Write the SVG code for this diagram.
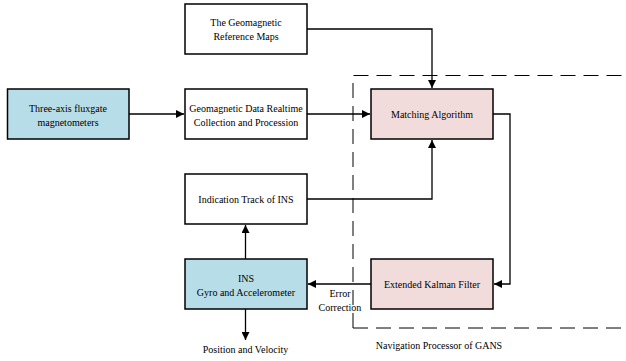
<svg xmlns="http://www.w3.org/2000/svg" width="626" height="361" viewBox="0 0 626 361">
<defs>
<style>
.box{stroke:#000;stroke-width:1.5;fill:#fff}
.blue{fill:#b7dde8}
.pink{fill:#f2dcdb}
text{font-family:'Liberation Serif','Times New Roman',serif;font-size:10px;fill:#000;text-anchor:middle}
.c{fill:none;stroke:#000;stroke-width:1.3}
</style>
<marker id="ah" viewBox="0 0 10 10" refX="10" refY="5" markerWidth="8" markerHeight="8" markerUnits="userSpaceOnUse" orient="auto">
<path d="M0,0 L10,5 L0,10 z" fill="#000"/>
</marker>
</defs>
<rect width="626" height="361" fill="#fff"/>
<g id="gans-boundary">
<path d="M353,328 L353,75.5 L630,75.5 M353,328 L630,328" fill="none" stroke="#000" stroke-width="1" stroke-dasharray="15 8"/>
<text x="439" y="349">Navigation Processor of GANS</text>
</g>
<g id="connectors">
<path class="c" d="M307,29 L432,29 L432,88" marker-end="url(#ah)"/>
<path class="c" d="M129,114 L184,114" marker-end="url(#ah)"/>
<path class="c" d="M307,114 L370,114" marker-end="url(#ah)"/>
<path class="c" d="M493,114 L510,114 L510,284 L494,284" marker-end="url(#ah)"/>
<path class="c" d="M307,199 L432,199 L432,140" marker-end="url(#ah)"/>
<path class="c" d="M245.5,259 L245.5,225" marker-end="url(#ah)"/>
<path class="c" d="M371,284 L308,284" marker-end="url(#ah)"/>
<path class="c" d="M245.5,309 L245.5,340" marker-end="url(#ah)"/>
<text x="340" y="297">Error</text>
<text x="340" y="311">Correction</text>
<text x="245.5" y="353">Position and Velocity</text>
</g>
<g id="ref-maps">
<rect class="box" x="185" y="4" width="122" height="50"/>
<text x="246" y="26">The Geomagnetic</text>
<text x="246" y="40">Reference Maps</text>
</g>
<g id="fluxgate">
<rect class="box blue" x="7.5" y="89" width="121.5" height="50"/>
<text x="68" y="112">Three-axis fluxgate</text>
<text x="68" y="126">magnetometers</text>
</g>
<g id="geo-data">
<rect class="box" x="185" y="89" width="122" height="50"/>
<text x="246" y="112">Geomagnetic Data Realtime</text>
<text x="246" y="126">Collection and Procession</text>
</g>
<g id="matching">
<rect class="box pink" x="371" y="89" width="122" height="50"/>
<text x="432" y="118">Matching Algorithm</text>
</g>
<g id="indication">
<rect class="box" x="185" y="174" width="122" height="50"/>
<text x="246" y="203">Indication Track of INS</text>
</g>
<g id="ins">
<rect class="box blue" x="185" y="259" width="122" height="50"/>
<text x="246" y="282">INS</text>
<text x="246" y="296">Gyro and Accelerometer</text>
</g>
<g id="ekf">
<rect class="box pink" x="371" y="259" width="122" height="50"/>
<text x="432" y="288">Extended Kalman Filter</text>
</g>
</svg>
